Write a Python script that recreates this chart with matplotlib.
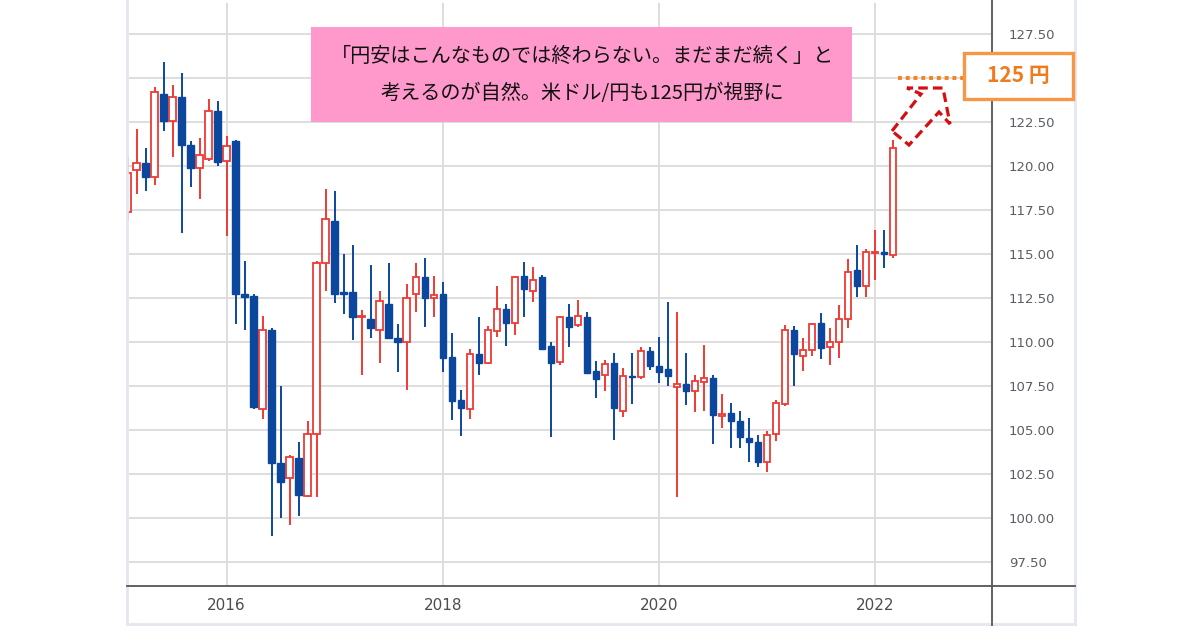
import matplotlib
matplotlib.use("Agg")
import matplotlib.pyplot as plt
from matplotlib.patches import Rectangle, Polygon
from matplotlib.lines import Line2D
import numpy as np
import pandas as pd

plt.rcParams['font.family'] = ['Noto Sans CJK JP', 'DejaVu Sans']

# ---- data: USD/JPY monthly candles, Feb 2015 .. Mar 2022 ----
start_month = "2015-02-01"
opens = [117.4, 119.8, 120.15, 119.35, 124.1, 122.55, 123.9, 121.2, 119.9, 120.4, 123.15,
         120.3, 121.4, 112.7, 112.6, 106.2, 110.7, 103.15, 102.25, 103.4, 101.25, 104.8, 114.5,
         116.9, 112.8, 112.85, 111.4, 111.3, 110.7, 112.15, 110.25, 110.0, 112.7, 113.7, 112.5,
         112.7, 109.15, 106.7, 106.2, 109.3, 108.8, 110.6, 111.9, 111.1, 113.75, 112.9, 113.7,
         109.75, 108.85, 111.4, 110.95, 111.4, 108.35, 108.15, 108.8, 106.1, 108.05, 108.0, 109.5,
         108.65, 108.45, 107.45, 107.6, 107.2, 107.7, 107.95, 105.8, 105.95, 105.5, 104.55, 104.3,
         103.2, 104.75, 106.5, 110.7, 109.2, 109.55, 111.1, 109.73, 110.0, 111.3, 114.1, 113.2,
         115.05, 115.1, 114.95]
highs = [120.5, 122.1, 121.0, 124.5, 125.9, 124.6, 125.3, 121.4, 121.6, 123.8, 123.7,
         121.7, 121.5, 114.6, 112.7, 111.5, 110.8, 107.5, 103.6, 104.3, 105.5, 114.6, 118.7,
         118.6, 115.0, 115.5, 111.8, 114.4, 112.9, 114.5, 111.05, 113.3, 114.5, 114.75, 113.75,
         113.4, 110.5, 107.3, 109.6, 111.4, 110.9, 113.2, 112.15, 113.75, 114.55, 114.25, 113.8,
         110.0, 111.5, 112.15, 112.4, 111.7, 108.9, 109.0, 109.35, 108.5, 109.35, 109.7, 109.7,
         110.3, 112.25, 111.7, 109.4, 108.1, 109.85, 108.15, 107.05, 106.55, 106.1, 105.7, 104.7,
         104.95, 106.7, 110.95, 110.9, 110.2, 111.1, 111.65, 110.8, 112.1, 114.7, 115.5, 115.3,
         116.35, 116.35, 121.45]
lows = [116.9, 118.4, 118.6, 118.9, 122.0, 120.5, 116.2, 118.8, 118.1, 120.3, 120.0,
        116.0, 111.0, 110.7, 106.2, 105.6, 98.95, 100.0, 99.6, 100.1, 101.2, 101.2, 112.9,
        112.2, 111.6, 110.1, 108.1, 110.25, 108.8, 110.2, 108.3, 107.3, 111.7, 110.85, 111.4,
        108.3, 105.55, 104.65, 105.65, 108.1, 108.75, 110.3, 109.8, 110.4, 111.4, 112.3, 109.55,
        104.6, 108.7, 109.7, 110.85, 108.2, 106.8, 107.2, 104.45, 105.75, 106.5, 107.9, 108.4,
        107.65, 107.5, 101.2, 106.4, 106.0, 106.1, 104.2, 105.1, 104.0, 104.0, 103.2, 102.9,
        102.6, 104.4, 106.35, 107.5, 108.35, 109.2, 109.05, 108.7, 109.1, 110.8, 112.55, 112.55,
        113.5, 114.2, 114.75]
closes = [119.6, 120.15, 119.4, 124.2, 122.55, 123.9, 121.2, 119.9, 120.65, 123.15, 120.2,
          121.15, 112.7, 112.55, 106.3, 110.7, 103.1, 102.05, 103.45, 101.3, 104.8, 114.5, 117.0,
          112.75, 112.75, 111.4, 111.5, 110.8, 112.35, 110.25, 110.0, 112.5, 113.7, 112.5, 112.65,
          109.1, 106.65, 106.25, 109.3, 108.8, 110.7, 111.9, 111.1, 113.7, 113.0, 113.5, 109.6,
          108.8, 111.4, 110.85, 111.45, 108.25, 107.9, 108.75, 106.25, 108.05, 108.0, 109.5, 108.65,
          108.3, 108.05, 107.6, 107.2, 107.8, 107.95, 105.85, 105.9, 105.5, 104.6, 104.3, 103.2,
          104.7, 106.55, 110.7, 109.3, 109.55, 111.05, 109.65, 109.98, 111.3, 114.0, 113.2, 115.1,
          115.1, 115.0, 121.05]
year_ticks = [2016, 2018, 2020, 2022]
price_ticks = [97.5, 100.0, 102.5, 105.0, 107.5, 110.0, 112.5, 115.0, 117.5, 120.0, 122.5, 125.0, 127.5]
target_price = 125.0
note_lines = ["「円安はこんなものでは終わらない。まだまだ続く」と",
              "考えるのが自然。米ドル/円も125円が視野に"]
target_label = "125 円"

# ---- figure ----
W, H = 1200, 630
fig = plt.figure(figsize=(W / 100, H / 100), dpi=100)
fig.patch.set_facecolor("white")

def fx(px):
    return px / W

def fy(py):
    return 1 - py / H

ax_l, ax_r, ax_t, ax_b = 128, 992, 3, 586
ax = fig.add_axes([fx(ax_l), fy(ax_b), (ax_r - ax_l) / W, (ax_b - ax_t) / H])

months = pd.date_range(start_month, periods=len(opens), freq="MS")
xs = np.array((months.year - 2015) * 12 + months.month - 1, dtype=float)

o = np.array(opens); h = np.array(highs); l = np.array(lows); c = np.array(closes)
bull = c >= o
red = "#ee3a34"
blue = "#0c479e"
bw = 0.72

# wicks
ax.vlines(xs[bull], l[bull], h[bull], color=red, lw=1.4, zorder=3)
ax.vlines(xs[~bull], l[~bull], h[~bull], color=blue, lw=1.4, zorder=3)
# bodies
body_lo = np.minimum(o, c)
body_h = np.maximum(np.abs(c - o), 0.08)
ax.bar(xs[bull], body_h[bull], bottom=body_lo[bull], width=bw, facecolor="white",
       edgecolor=red, linewidth=1.3, zorder=4)
ax.bar(xs[~bull], body_h[~bull], bottom=body_lo[~bull], width=bw, facecolor=blue,
       edgecolor=blue, linewidth=1.0, zorder=4)

# scales
px_per_month = 9.005
x_jan22 = 875
idx22 = (2022 - 2015) * 12
ax.set_xlim(idx22 + (ax_l - x_jan22) / px_per_month, idx22 + (ax_r - x_jan22) / px_per_month)
px_per_unit = 17.6
ax.set_ylim(115 + (254 - ax_b) / px_per_unit, 115 + (254 - ax_t) / px_per_unit)

ax.set_xticks([(y - 2015) * 12 for y in year_ticks])
ax.set_xticklabels([str(y) for y in year_ticks], fontsize=11, color="#4d4d4d",
                   family="DejaVu Sans")
ax.set_yticks(price_ticks)
ax.set_yticklabels(["" if abs(v - target_price) < 1e-9 else f"{v:.2f}" for v in price_ticks],
                   fontsize=9.5, color="#5a5d66", family="DejaVu Sans")
ax.yaxis.tick_right()
ax.tick_params(axis="y", length=0, pad=12)
ax.tick_params(axis="x", length=0, pad=9)
for lab in ax.get_yticklabels():
    lab.set_horizontalalignment("left")
ax.grid(True, color="#d8d8d8", lw=1.2, zorder=0)
ax.set_axisbelow(True)
for s in ax.spines.values():
    s.set_visible(False)

# frame lines
fig.add_artist(Line2D([fx(127), fx(127)], [fy(0), fy(624)], color="#e4e7ee", lw=2))
fig.add_artist(Line2D([fx(127), fx(1075)], [fy(624), fy(624)], color="#e4e7ee", lw=2))
fig.add_artist(Line2D([fx(1075), fx(1075)], [fy(0), fy(624)], color="#e4e7ee", lw=2))
fig.add_artist(Line2D([fx(992), fx(992)], [fy(0), fy(625)], color="#555555", lw=1.3))
fig.add_artist(Line2D([fx(127), fx(1075)], [fy(586), fy(586)], color="#555555", lw=1.3))

# pink note box
fig.add_artist(Rectangle((fx(311), fy(122)), (852 - 311) / W, 95 / H, transform=fig.transFigure,
                         facecolor="#ff99cc", edgecolor="none", zorder=5))
fig.text(fx(582), fy(56), note_lines[0], ha="center", va="center", fontsize=14.5,
         color="#111111", zorder=6)
fig.text(fx(582), fy(93), note_lines[1], ha="center", va="center", fontsize=14.5,
         color="#111111", zorder=6)

# dotted target line
x_dot0 = idx22 + (898 - x_jan22) / px_per_month
x_dot1 = idx22 + (963 - x_jan22) / px_per_month
ax.plot([x_dot0, x_dot1], [target_price, target_price], color="#f5821f", lw=2.8,
        linestyle=(0, (1, 1)), dash_capstyle="butt", zorder=6, clip_on=False)

# orange target box
fig.add_artist(Rectangle((fx(964), fy(99)), (1073 - 964) / W, 46 / H, transform=fig.transFigure,
                         facecolor="white", edgecolor="#f79646", lw=2.4, zorder=7))
fig.text(fx(1018), fy(76), target_label, ha="center", va="center", fontsize=15,
         fontweight="bold", color="#f07a1e", zorder=8)

# red dashed block arrow
arrow_px = [(892, 131), (921, 94), (907, 88), (943, 88), (950, 124), (939, 112), (909, 145)]
fig.add_artist(Polygon([(fx(a), fy(b)) for a, b in arrow_px], closed=True,
                       transform=fig.transFigure, fill=False, edgecolor="#d40f14",
                       lw=2.3, linestyle=(0, (3, 1.6)), zorder=7))

fig.savefig("out.png", dpi=100, facecolor="white")
